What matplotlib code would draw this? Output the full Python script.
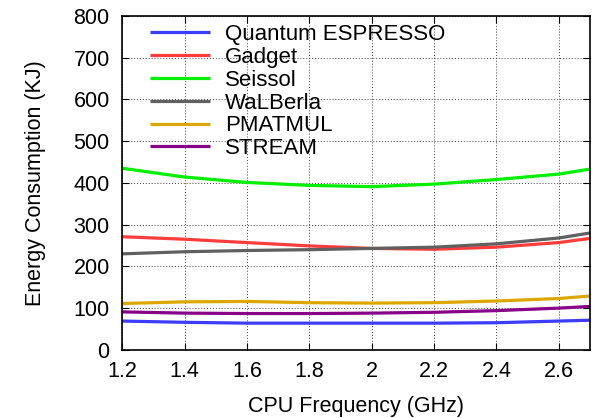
import numpy as np
import matplotlib.pyplot as plt

plt.rcParams['font.family'] = ['Liberation Sans', 'DejaVu Sans']

freq = [1.2, 1.4, 1.6, 1.8, 2.0, 2.2, 2.4, 2.6, 2.7]
quantum = [69, 66, 64, 64, 64, 64, 65, 69, 71]
gadget = [271, 265, 257, 249, 243, 241, 246, 257, 267]
seissol = [435, 414, 401, 394, 391, 397, 408, 421, 433]
walberla = [230, 235, 238, 240, 243, 246, 254, 268, 280]
pmatmul = [111, 115, 116, 113, 112, 113, 117, 123, 129]
stream = [91, 88, 87, 87, 88, 90, 94, 100, 104]

names = ['Quantum ESPRESSO', 'Gadget', 'Seissol', 'WaLBerla', 'PMATMUL', 'STREAM']
colors = ['#3c3cff', '#ff3c3c', '#00f000', '#606060', '#dca800', '#880088']
series = [quantum, gadget, seissol, walberla, pmatmul, stream]

fig = plt.figure(figsize=(5.96, 4.18), dpi=100)
ax = fig.add_axes([0.205, 0.163, 0.785, 0.799])

for name, c, ys in zip(names, colors, series):
    ax.plot(freq, ys, color=c, lw=2.3, label=name, solid_capstyle='butt')

ax.set_xlim(1.2, 2.7)
ax.set_ylim(0, 800)
ax.set_xticks(np.arange(1.2, 2.61, 0.2))
ax.set_xticklabels(['1.2', '1.4', '1.6', '1.8', '2', '2.2', '2.4', '2.6'])
ax.set_yticks(range(0, 801, 100))
ax.tick_params(direction='in', top=True, right=True, labelsize=15.5, length=5)
ax.tick_params(axis='x', pad=8)
ax.tick_params(axis='y', pad=9)
ax.grid(True, linestyle=(0, (1, 2)), color='#444444', lw=0.7)
ax.set_xlabel('CPU Frequency (GHz)', fontsize=15.5, labelpad=10)
ax.set_ylabel('Energy Consumption (KJ)', fontsize=15.5, labelpad=20)
for s in ax.spines.values():
    s.set_linewidth(1.2)

leg = ax.legend(loc='upper left', frameon=False, fontsize=16, handlelength=2.7,
                labelspacing=0.08, borderaxespad=0.0, handletextpad=0.65,
                borderpad=0.0, bbox_to_anchor=(0.06, 0.975))

fig.savefig('out.png', dpi=100)
